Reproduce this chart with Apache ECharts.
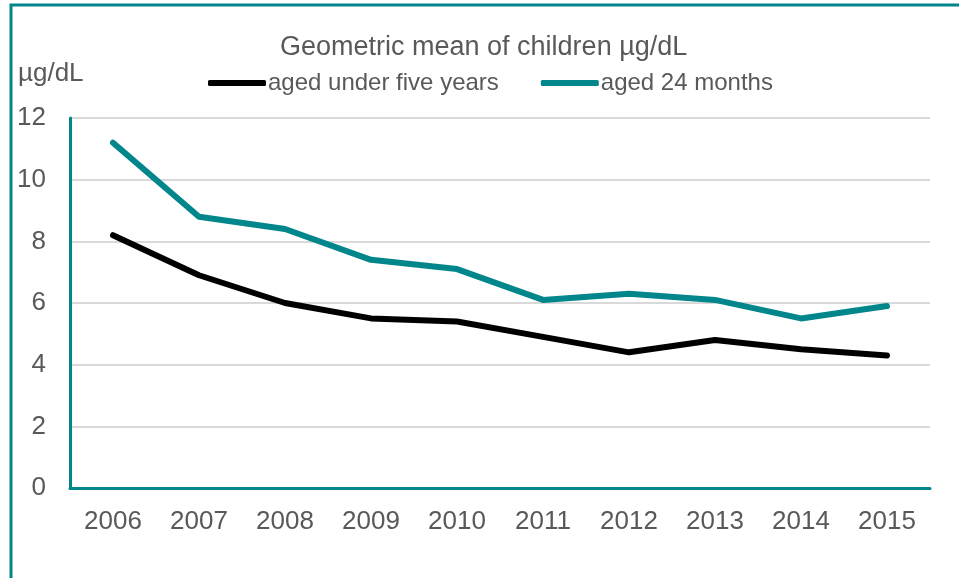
<!DOCTYPE html>
<html><head><meta charset="utf-8">
<script src="https://cdn.jsdelivr.net/npm/echarts@6/dist/echarts.min.js"></script>
<style>html,body{margin:0;padding:0;background:#fff}#c{width:959px;height:578px}</style>
</head><body><div id="c"></div>
<script>
const years = ['2006','2007','2008','2009','2010','2011','2012','2013','2014','2015'];
const under5 = [8.2, 6.9, 6.0, 5.5, 5.4, 4.9, 4.4, 4.8, 4.5, 4.3];
const aged24 = [11.2, 8.8, 8.4, 7.4, 7.1, 6.1, 6.3, 6.1, 5.5, 5.9];
const seriesNames = ['aged under five years', 'aged 24 months'];
const titleText = 'Geometric mean of children µg/dL';
const unitText = 'µg/dL';

const teal = '#00868B';
const grey = '#595959';
const font = 'Liberation Sans, Arial, sans-serif';
const chart = echarts.init(document.getElementById('c'));
chart.setOption({
  animation: false,
  backgroundColor: '#fff',
  title: [
    { text: titleText, left: 280, top: 34, padding: 0,
      textStyle: { color: grey, fontSize: 27, fontWeight: 'normal', fontFamily: font } },
    { text: unitText, left: 18, top: 61, padding: 0,
      textStyle: { color: grey, fontSize: 26, fontWeight: 'normal', fontFamily: font } }
  ],
  legend: {
    left: 208, top: 71, padding: 0, itemGap: 42,
    itemWidth: 58, itemHeight: 6, icon: 'roundRect',
    textStyle: { color: grey, fontSize: 24, fontFamily: font, padding: [0,0,0,-3] },
    data: seriesNames
  },
  graphic: [{
    type: 'polyline', silent: true,
    shape: { points: [[11, 578], [11, 5], [959, 5]] },
    style: { stroke: teal, lineWidth: 3, fill: null }
  }],
  grid: { left: 70, right: 29, top: 118, bottom: 90, containLabel: false },
  xAxis: {
    type: 'category', data: years, boundaryGap: true,
    axisLine: { lineStyle: { color: teal, width: 3 } },
    axisTick: { show: false },
    axisLabel: { color: grey, fontSize: 26, fontFamily: font, margin: 21 }
  },
  yAxis: {
    type: 'value', min: 0, max: 12, interval: 2,
    axisLine: { show: true, lineStyle: { color: teal, width: 3 } },
    axisTick: { show: false },
    axisLabel: { color: grey, fontSize: 26, fontFamily: font, margin: 24, padding: [4,0,0,0] },
    splitLine: { lineStyle: { color: '#D9D9D9', width: 2 } }
  },
  series: [
    { name: seriesNames[0], type: 'line', data: under5, symbol: 'none',
      itemStyle: { color: '#000' },
      lineStyle: { color: '#000', width: 6, cap: 'round', join: 'round' } },
    { name: seriesNames[1], type: 'line', data: aged24, symbol: 'none',
      itemStyle: { color: teal },
      lineStyle: { color: teal, width: 6, cap: 'round', join: 'round' } }
  ]
});
</script></body></html>
